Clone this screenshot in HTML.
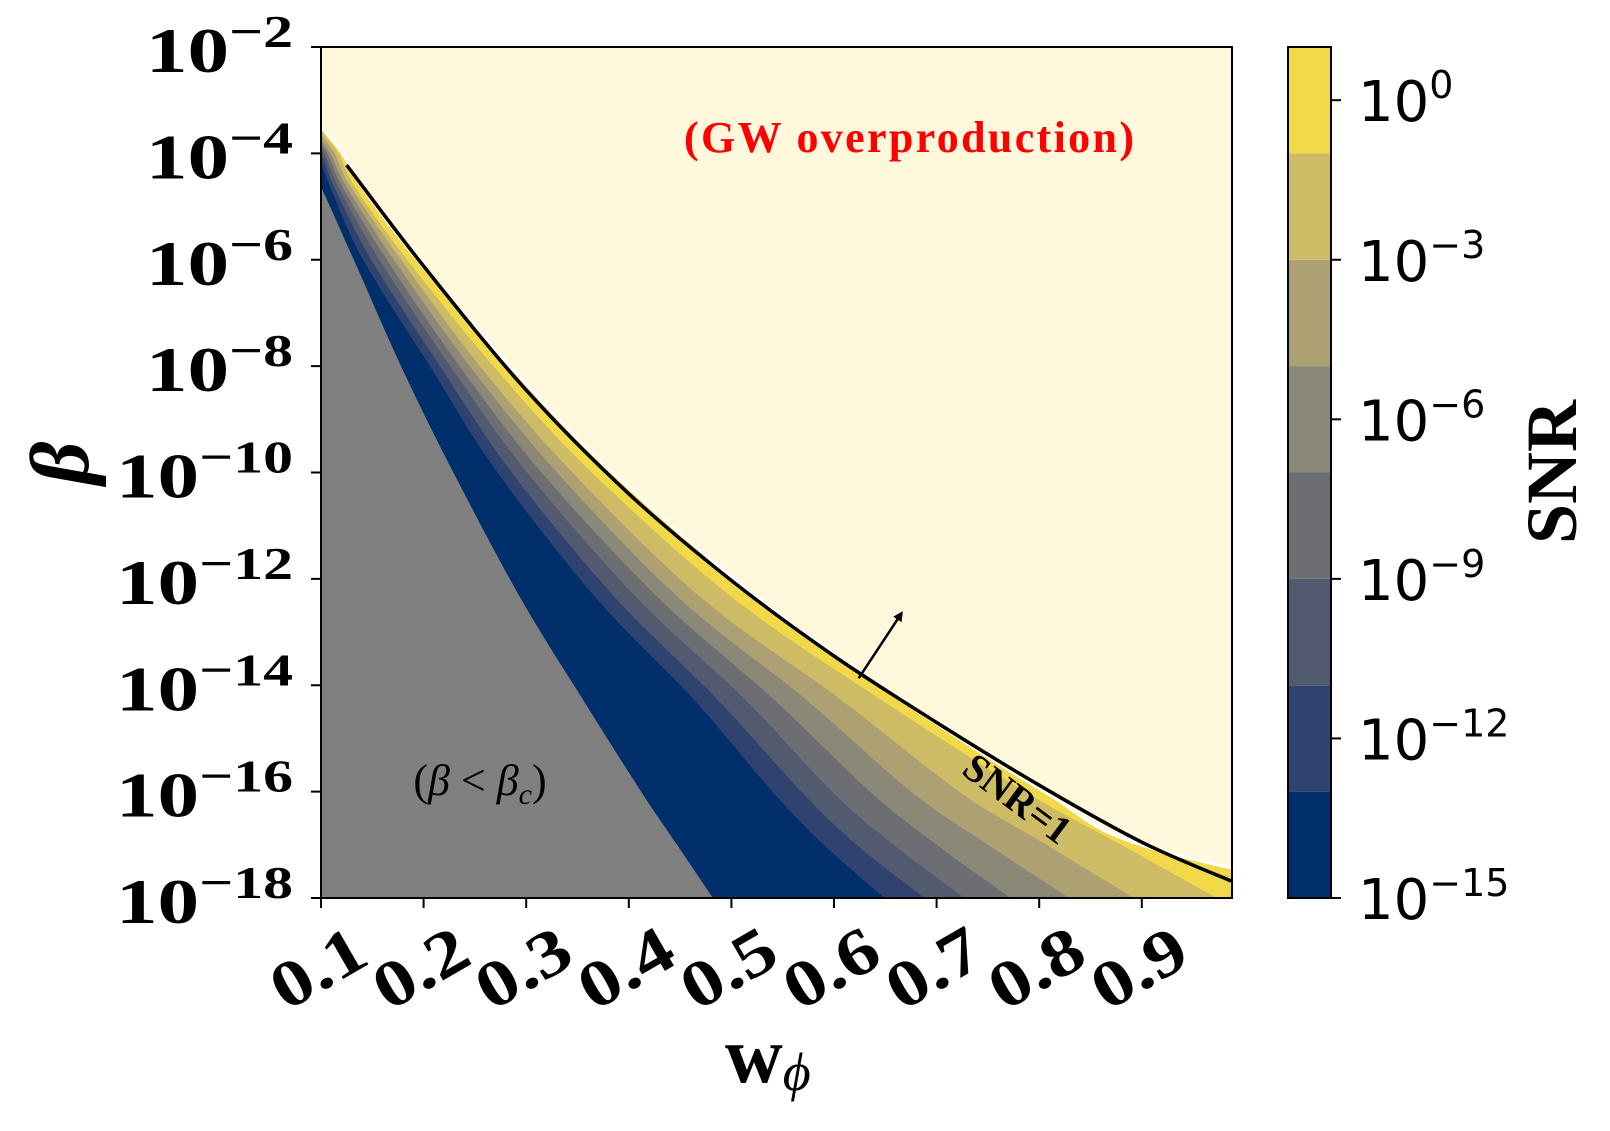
<!DOCTYPE html>
<html><head><meta charset="utf-8"><style>
html,body{margin:0;padding:0;background:#fff;}
svg{display:block;}
</style></head><body>
<svg id="chart" xmlns="http://www.w3.org/2000/svg" width="1610" height="1131" viewBox="0 0 1610 1131" style="position:absolute;left:0;top:0">
<defs><clipPath id="plotClip"><rect x="321" y="47" width="911" height="851"/></clipPath>
<marker id="arrowHead" markerWidth="10" markerHeight="10" refX="6" refY="5" orient="auto" markerUnits="userSpaceOnUse"><path d="M0,0 L10,5 L0,10 z" fill="#000"/></marker></defs>
<rect x="0" y="0" width="1610" height="1131" fill="#fff"/>
<g id="plot" clip-path="url(#plotClip)"></g>
<g id="overlay"></g>
</svg>
<script>
// ---- data ----
const rowsLogBeta = [-3.5, -4, -4.63, -6, -8, -10, -12.38, -14.26, -16, -17, -18];
const grayEdgeW   = [0.070, 0.084, 0.100, 0.132, 0.178, 0.229, 0.295, 0.355, 0.412, 0.447, 0.482];
const snrM13W     = [0.080, 0.097, 0.109, 0.141, 0.206, 0.272, 0.369, 0.463, 0.540, 0.590, 0.649];
const snrM11W     = [0.082, 0.100, 0.113, 0.149, 0.216, 0.286, 0.388, 0.486, 0.568, 0.622, 0.688];
const snrM9W      = [0.085, 0.103, 0.117, 0.157, 0.226, 0.301, 0.409, 0.513, 0.598, 0.658, 0.727];
const snrM7W      = [0.088, 0.106, 0.121, 0.164, 0.235, 0.315, 0.430, 0.541, 0.635, 0.700, 0.772];
const snrM5W      = [0.091, 0.109, 0.125, 0.171, 0.245, 0.330, 0.450, 0.572, 0.675, 0.750, 0.829];
const snrM3W      = [0.094, 0.113, 0.129, 0.178, 0.255, 0.345, 0.472, 0.606, 0.722, 0.807, 0.892];
const snrM1W      = [0.097, 0.117, 0.133, 0.184, 0.268, 0.364, 0.503, 0.645, 0.786, 0.880, 0.973];
const overprodEdgeW = [0.100, 0.121, 0.140, 0.194, 0.284, 0.384, 0.527, 0.664, 0.805, 0.899, 1.122];

const snrOneW       = [0.125, 0.200, 0.300, 0.400, 0.500, 0.600, 0.700, 0.800, 0.900, 0.987];
const snrOneLogBeta = [-4.22, -6.12, -8.45, -10.40, -12.03, -13.45, -14.70, -15.88, -16.95, -17.68];

const xTicks = [0.1, 0.2, 0.3, 0.4, 0.5, 0.6, 0.7, 0.8, 0.9];
const xTickLabels = ["0.1","0.2","0.3","0.4","0.5","0.6","0.7","0.8","0.9"];
const yTicks = [-2, -4, -6, -8, -10, -12, -14, -16, -18];
const cbarLevels = [-15, -13, -11, -9, -7, -5, -3, -1, 1];
const cbarTicks = [0, -3, -6, -9, -12, -15];
const bandColors = ["#002f6b", "#30426f", "#515a6e", "#6d6e73", "#8b8878", "#ada073", "#cebb66", "#f1d94a"];

// ---- scales ----
const X0 = 321, X1 = 1232, Y0 = 47, Y1 = 898;
const xPx = w => X0 + (w - 0.1) * 1026;
const yPx = L => Y0 + (-2 - L) * (Y1 - Y0) / 16;
const yCb = L => Y0 + (1 - L) * (Y1 - Y0) / 16;

const NS = "http://www.w3.org/2000/svg";
const plot = document.getElementById("plot");
const overlay = document.getElementById("overlay");
function mk(tag, attrs, parent) {
  const e = document.createElementNS(NS, tag);
  for (const k in attrs) e.setAttribute(k, attrs[k]);
  parent.appendChild(e);
  return e;
}
function smooth(pts) {
  let d = "M" + pts[0][0].toFixed(1) + "," + pts[0][1].toFixed(1);
  for (let i = 0; i < pts.length - 1; i++) {
    const p0 = pts[i - 1] || pts[i], p1 = pts[i], p2 = pts[i + 1], p3 = pts[i + 2] || p2;
    const c1 = [p1[0] + (p2[0] - p0[0]) / 6, p1[1] + (p2[1] - p0[1]) / 6];
    const c2 = [p2[0] - (p3[0] - p1[0]) / 6, p2[1] - (p3[1] - p1[1]) / 6];
    d += " C" + c1[0].toFixed(1) + "," + c1[1].toFixed(1) + " " + c2[0].toFixed(1) + "," + c2[1].toFixed(1) + " " + p2[0].toFixed(1) + "," + p2[1].toFixed(1);
  }
  return d;
}
function rowPts(ws) { return rowsLogBeta.map((L, i) => [xPx(ws[i]), yPx(L)]); }

const bg = mk("rect", {x: X0, y: Y0, width: X1 - X0, height: Y1 - Y0, fill: "#fff8dc"}, plot);



function leftRegion(ws) {
  const pts = rowPts(ws);
  const last = pts[pts.length - 1];
  return smooth(pts) + " L" + last[0].toFixed(1) + "," + (Y1 + 30) + " L" + (X0 - 50) + "," + (Y1 + 30) + " L" + (X0 - 50) + "," + pts[0][1].toFixed(1) + " Z";
}
const boundaries = [overprodEdgeW, snrM1W, snrM3W, snrM5W, snrM7W, snrM9W, snrM11W, snrM13W];
const bandNames = ['band-snr-1e-1-to-1e1','band-snr-1e-3-to-1e-1','band-snr-1e-5-to-1e-3','band-snr-1e-7-to-1e-5','band-snr-1e-9-to-1e-7','band-snr-1e-11-to-1e-9','band-snr-1e-13-to-1e-11','band-snr-1e-15-to-1e-13'];
for (let k = 0; k < boundaries.length; k++) {
  const p = mk("path", {d: leftRegion(boundaries[k]), fill: bandColors[7 - k]}, plot);
  
  
}
const gp = mk("path", {d: leftRegion(grayEdgeW), fill: "#808080"}, plot);



const we = mk("path", {d: smooth(rowPts(overprodEdgeW)), fill: "none", stroke: "#ffffff", "stroke-width": 3}, plot);



const snrPts = snrOneW.map((w, i) => [xPx(w), yPx(snrOneLogBeta[i])]);
const sl = mk("path", {d: smooth(snrPts), fill: "none", stroke: "#000", "stroke-width": 3.5, "stroke-linejoin": "round"}, plot);



const ar = mk("line", {x1: xPx(0.624), y1: yPx(-13.87), x2: xPx(0.665), y2: yPx(-12.67), stroke: "#000", "stroke-width": 2.5, "marker-end": "url(#arrowHead)"}, overlay);



const fr = mk("rect", {x: X0, y: Y0, width: X1 - X0, height: Y1 - Y0, fill: "none", stroke: "#000", "stroke-width": 2}, overlay);



yTicks.forEach(L => {
  const y = yPx(L);
  const t = mk("line", {x1: X0 - 10, y1: y, x2: X0, y2: y, stroke: "#000", "stroke-width": 2}, overlay);
  
  
  const tx = mk("text", {x: 0, y: 0, transform: "translate(293," + (y + 25) + ") scale(1.3,1)", "text-anchor": "end", "font-family": "Liberation Serif, serif", "font-weight": "bold", "font-size": 64, fill: "#000"}, overlay);
  
  
  const a = mk("tspan", {}, tx); a.textContent = "10";
  const b = mk("tspan", {dy: -25, "font-size": 46}, tx); b.textContent = "\u2212" + (-L);
});

xTicks.forEach((w, i) => {
  const x = xPx(w);
  const t = mk("line", {x1: x, y1: Y1, x2: x, y2: Y1 + 10, stroke: "#000", "stroke-width": 2}, overlay);
  
  
  const tx = mk("text", {x: 0, y: 22, transform: "translate(" + (x - 3) + ",968) rotate(-30) scale(1.2,1)", "text-anchor": "middle", "font-family": "Liberation Serif, serif", "font-weight": "bold", "font-size": 66, fill: "#000"}, overlay);
  
  
  tx.textContent = xTickLabels[i];
});

const CB0 = 1288, CB1 = 1331;
for (let k = 0; k < bandColors.length; k++) {
  const yTop = yCb(cbarLevels[k + 1]), yBot = yCb(cbarLevels[k]);
  const r = mk("rect", {x: CB0, y: yTop, width: CB1 - CB0, height: yBot - yTop, fill: bandColors[k]}, overlay);
  
  
}
const cf = mk("rect", {x: CB0, y: Y0, width: CB1 - CB0, height: Y1 - Y0, fill: "none", stroke: "#000", "stroke-width": 2}, overlay);


cbarTicks.forEach(L => {
  const y = yCb(L);
  const t = mk("line", {x1: CB1, y1: y, x2: CB1 + 10, y2: y, stroke: "#000", "stroke-width": 2}, overlay);
  
  
  const tx = mk("text", {x: 1358, y: y + 21, "font-family": "DejaVu Sans, sans-serif", "font-size": 56, fill: "#000"}, overlay);
  
  
  const a = mk("tspan", {}, tx); a.textContent = "10";
  const b = mk("tspan", {dy: -23, "font-size": 38}, tx); b.textContent = (L === 0 ? "0" : "\u2212" + (-L));
});
</script>
<svg style="position:absolute;left:0;top:0" width="1610" height="1131" xmlns="http://www.w3.org/2000/svg">
<text x="909" y="152" text-anchor="middle" font-family="Liberation Serif, serif" font-weight="bold" font-size="44" fill="#ff0000" textLength="450">(GW overproduction)</text>
<text x="480" y="795" text-anchor="middle" font-family="Liberation Serif, serif" font-size="44" fill="#000">(<tspan font-style="italic">β</tspan> &lt; <tspan font-style="italic">β</tspan><tspan font-style="italic" font-size="30" dy="9">c</tspan><tspan dy="-9">)</tspan></text>
<text x="0" y="0" transform="translate(1015,802) rotate(36.5)" text-anchor="middle" dominant-baseline="middle" font-family="Liberation Serif, serif" font-weight="bold" font-size="40" fill="#000">SNR=1</text>
<text x="0" y="0" transform="translate(88,463) rotate(-90)" text-anchor="middle" font-family="Liberation Serif, serif" font-style="italic" font-weight="bold" font-size="84" fill="#000">β</text>
<text x="725" y="1082" font-family="Liberation Serif, serif" font-weight="bold" font-size="80" fill="#000">w<tspan font-weight="normal" font-style="italic" font-size="54" dy="8">ϕ</tspan></text>
<text x="0" y="0" transform="translate(1576,472) rotate(-90)" text-anchor="middle" font-family="Liberation Serif, serif" font-weight="bold" font-size="72" fill="#000">SNR</text>
</svg>
</body></html>
